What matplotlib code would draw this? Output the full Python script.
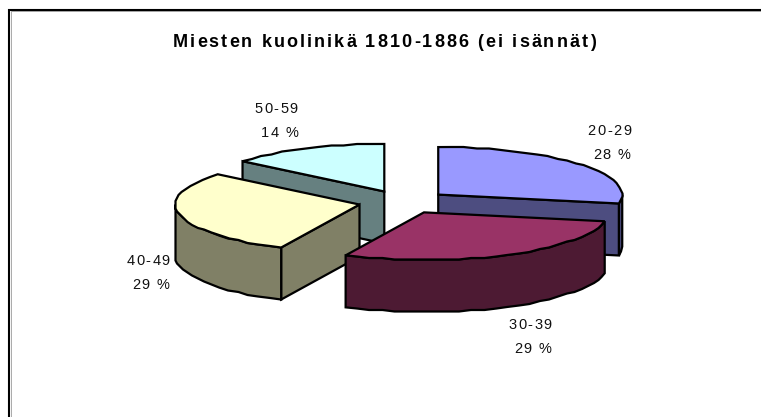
import numpy as np
import matplotlib
matplotlib.use("Agg")
import matplotlib.pyplot as plt
from matplotlib.patches import Polygon
from matplotlib.text import Text

# Data
categories = ["20-29", "30-39", "40-49", "50-59"]
percent = [28, 29, 29, 14]
top_colors = ["#9999FF", "#993366", "#FFFFCC", "#CCFFFF"]
side_colors = ["#4D4D80", "#4D1A33", "#808066", "#668080"]
title = "Miesten kuolinikä 1810-1886 (ei isännät)"

# Layout (pixels)
W, H = 761, 417
CX, CY = 403.5, 202.0
RX, RY = 184.0, 47.5
DEPTH = 52.0
EXPLODE = 0.245
STEP = 1.5
label_pos = {"20-29": (610, 135, 612.5, 159), "30-39": (531, 329, 533.5, 353),
             "40-49": (149, 265, 151.5, 289), "50-59": (277, 113, 280, 137)}

plt.rcParams["font.family"] = ["Liberation Sans", "DejaVu Sans"]
fig = plt.figure(figsize=(W / 100, H / 100), dpi=100, facecolor="white")
ax = fig.add_axes([0, 0, 1, 1])
ax.set_xlim(0, W)
ax.set_ylim(H, 0)
ax.axis("off")

LW = 1.6
KW = dict(edgecolor="black", linewidth=LW, joinstyle="miter")


class TrackedText(Text):
    """One text artist drawn with extra space between its letters."""

    def __init__(self, x, y, s, tracking=0.0, **kw):
        super().__init__(x, y, s, ha="center", va="baseline", **kw)
        self.tracking = tracking

    def _advances(self, renderer):
        s, prop = self.get_text(), self.get_fontproperties()
        widths = [renderer.get_text_width_height_descent(s[:k], prop, False)[0] if k else 0.0
                  for k in range(len(s) + 1)]
        return np.array(widths) + self.tracking * np.arange(len(s) + 1)

    def draw(self, renderer):
        adv = self._advances(renderer)
        x0, y0 = self.get_position()
        left = x0 - adv[-1] / 2
        for k, ch in enumerate(self.get_text()):
            if ch == " ":
                continue
            t = Text(left + adv[k], y0, ch, ha="left", va="baseline", color=self.get_color(),
                     fontproperties=self.get_fontproperties(), transform=self.get_transform())
            t.set_figure(self.get_figure())
            t.draw(renderer)


def rim(c, deg, r=1.0):
    a = np.radians(deg)
    return c[0] + r * RX * np.sin(a), c[1] - r * RY * np.cos(a)


def arc(c, a0, a1):
    n = max(2, int(abs(a1 - a0) / 4) + 1)
    aa = np.linspace(a0, a1, n)
    x, y = rim(c, aa)
    # the original rim is a coarsely snapped outline
    x[1:-1] = np.round(x[1:-1] / STEP) * STEP
    y[1:-1] = np.round(y[1:-1] / STEP) * STEP
    return np.column_stack([x, y])


total = sum(percent)
edges = np.concatenate([[0], np.cumsum(percent)]) / total * 360.0


def draw_slice(i, z):
    a0, a1 = edges[i], edges[i + 1]
    mid = (a0 + a1) / 2
    c = rim((CX, CY), mid, EXPLODE)
    drop = np.array([0, DEPTH])
    apex = np.array(c)
    # only the cut faces turned towards the viewer
    for a, visible in ((a0, np.sin(np.radians(a0)) < -1e-6), (a1, np.sin(np.radians(a1)) > 1e-6)):
        if visible:
            p = np.array(rim(c, a))
            ax.add_patch(Polygon([apex, p, p + drop, apex + drop],
                                 facecolor=side_colors[i], zorder=z, **KW))
    f0, f1 = max(a0, 90), min(a1, 270)
    if f1 > f0:
        up = arc(c, f0, f1)
        ax.add_patch(Polygon(np.vstack([up, (up + drop)[::-1]]),
                             facecolor=side_colors[i], zorder=z + 0.1, **KW))
    ax.add_patch(Polygon(np.vstack([apex, arc(c, a0, a1)]),
                         facecolor=top_colors[i], zorder=z + 0.2, **KW))


for z, i in enumerate([3, 0, 2, 1]):
    draw_slice(i, z + 1)

# Chart frame: only the top and left edges fall inside the crop
ax.plot([10.5, 10.5, W], [H, 11, 11], color="#AAAAAA", lw=0.7, zorder=0)
ax.plot([9, 9, W], [H, 9.5, 9.5], color="black", lw=1.5, zorder=0.5, solid_joinstyle="miter")

ax.add_artist(TrackedText(385, 47, title, tracking=2.1, fontsize=13, fontweight="bold",
                          color="black"))
for i, cat in enumerate(categories):
    x0, y0, x1, y1 = label_pos[cat]
    ax.add_artist(TrackedText(x0, y0, cat, tracking=1.5, fontsize=10.5, color="#111111"))
    ax.add_artist(TrackedText(x1, y1, f"{percent[i]} %", tracking=1.3, fontsize=10.5, color="#111111"))

fig.savefig("out.png", dpi=100, facecolor="white")
